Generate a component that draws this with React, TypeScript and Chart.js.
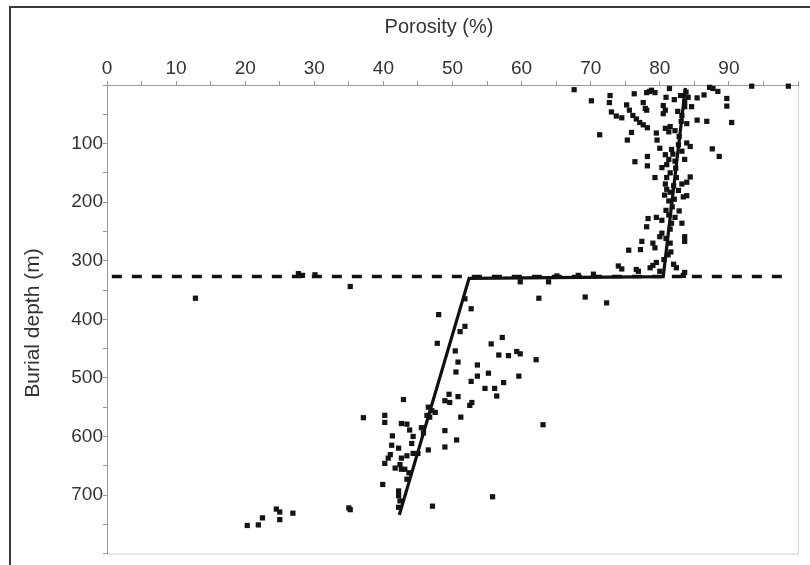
import React, { useEffect, useRef } from "react";
import { Chart, registerables } from "chart.js";

Chart.register(...registerables);

// Sample porosity (%) values
const porosity = [
  67.6, 70.1, 72.8, 72.7, 76.3, 78.5, 78.1, 79.3, 78.8, 81.4, 80.9, 82.1, 85.4, 86.4, 87.2, 87.7, 88.4, 89.7, 89.7, 93.3,
  98.6, 90.4, 85.4, 86.8, 87.6, 88.6, 77.6, 77.9, 78.1, 75.2, 75.6, 76.1, 76.6, 77.1, 77.6, 78.2, 73.0, 73.7, 74.5, 71.3,
  75.9, 75.3, 80.5, 80.8, 80.5, 79.5, 79.6, 80.8, 81.5, 81.3, 83.2, 83.9, 83.6, 84.6, 83.8, 84.1, 83.6, 80.0, 80.8, 81.3,
  81.0, 80.3, 81.7, 82.2, 82.7, 83.2, 83.6, 84.4, 83.9, 78.2, 78.2, 76.4, 79.3, 81.0, 80.8, 81.0, 81.5, 83.2, 83.9, 84.4,
  83.9, 83.4, 82.4, 82.7, 78.3, 78.1, 79.5, 80.3, 81.3, 81.7, 82.2, 83.2, 83.6, 83.6, 80.0, 80.3, 77.4, 77.2, 75.5, 79.0,
  79.3, 81.5, 74.0, 74.5, 76.6, 76.9, 78.6, 79.0, 79.5, 80.0, 82.0, 82.4, 83.6, 83.4, 70.4, 68.2, 65.1,
  83.0, 82.6, 83.1, 82.2, 82.8, 81.9, 82.3, 81.5, 82.0, 81.3, 81.8, 80.9, 81.5, 80.9, 81.2, 80.6, 82.1, 81.6, 82.8, 80.7,
  69.2, 72.3, 12.8, 27.7, 28.3, 30.1, 35.2, 59.8, 63.9, 62.5,
  51.8, 52.7, 51.8, 51.1, 48.0, 47.8, 50.4, 50.8, 50.5, 57.2, 55.6, 56.7, 58.1, 59.3, 59.8, 62.1, 53.6, 55.2, 53.6, 57.4,
  52.7, 54.7, 56.1, 56.4, 59.6, 49.5, 49.6, 48.9, 50.8, 42.9, 52.8, 52.5, 51.2, 37.1, 40.2, 40.2, 46.5, 47.0, 47.5, 46.3,
  46.7, 42.6, 43.4, 43.8, 44.3, 45.5, 45.8, 44.1, 41.3, 41.2, 42.2, 41.0, 40.7, 40.2, 42.6, 43.4, 42.4, 43.1, 44.3, 45.0,
  48.9, 50.6, 48.9, 46.5, 63.1, 41.7, 42.6, 43.7, 43.4, 39.9, 42.2, 42.2, 42.4, 42.2, 35.2, 47.1, 55.8, 20.3, 21.9, 22.5,
  24.5, 25.0, 25.0, 26.9, 35.0,
];

// Sample burial depth (m) values
const depth = [
  8, 27, 18, 30, 15, 11, 13, 13, 9, 6, 21, 25, 22, 17, 4, 6, 11, 23, 36, 2,
  2, 64, 60, 62, 109, 122, 30, 40, 43, 34, 43, 52, 58, 64, 68, 73, 46, 53, 56, 85,
  81, 94, 35, 43, 49, 82, 94, 74, 71, 80, 52, 66, 37, 37, 12, 21, 29, 108, 119, 127,
  136, 141, 110, 130, 102, 113, 127, 105, 99, 122, 138, 131, 158, 158, 169, 178, 183, 169, 166, 157,
  189, 191, 158, 180, 228, 242, 226, 231, 222, 236, 226, 236, 259, 267, 259, 253, 267, 281, 282, 270,
  278, 270, 309, 314, 315, 318, 312, 308, 303, 318, 306, 312, 320, 325, 323, 325, 326,
  18, 45, 62, 78, 88, 118, 142, 150, 172, 198, 208, 214, 246, 262, 290, 298, 195, 285, 215, 188,
  362, 372, 364, 322, 325, 324, 344, 336, 336, 364,
  365, 382, 412, 421, 392, 441, 454, 473, 490, 431, 442, 461, 462, 455, 459, 469, 478, 492, 497, 508,
  506, 518, 518, 531, 497, 528, 542, 539, 532, 537, 542, 547, 567, 568, 564, 576, 550, 556, 559, 564,
  567, 578, 579, 589, 600, 585, 594, 612, 599, 615, 620, 631, 637, 646, 637, 633, 648, 656, 629, 629,
  590, 606, 618, 623, 580, 654, 656, 662, 673, 682, 693, 701, 710, 721, 725, 719, 703, 752, 751, 739,
  724, 729, 742, 731, 722,
];

// Trend line (porosity vs depth)
const trendPorosity = [83.7, 80.5, 52.4, 42.3];
const trendDepth = [5, 327, 330, 734];

// Horizontal boundary (dashed)
const boundaryPorosity = [0.7, 99.1];
const boundaryDepth = [327, 327];

const xTitle = "Porosity (%)";
const yTitle = "Burial depth (m)";

const FONT = "'Liberation Sans', Arial, sans-serif";

export default function App() {
  const ref = useRef<HTMLCanvasElement>(null);

  useEffect(() => {
    if (!ref.current) return;
    const pts = porosity.map((p, i) => ({ x: p, y: depth[i] }));
    const trend = trendPorosity.map((p, i) => ({ x: p, y: trendDepth[i] }));
    const boundary = boundaryPorosity.map((p, i) => ({ x: p, y: boundaryDepth[i] }));

    const decor = {
      id: "decor",
      beforeDraw(chart: any) {
        const { ctx, chartArea: a } = chart;
        ctx.save();
        ctx.fillStyle = "#ffffff";
        ctx.fillRect(0, 0, chart.width, chart.height);
        // outer frame
        ctx.strokeStyle = "#3a3a3a";
        ctx.lineWidth = 2;
        ctx.beginPath();
        ctx.moveTo(10, 565);
        ctx.lineTo(10, 7);
        ctx.lineTo(810, 7);
        ctx.stroke();
        // light plot frame right/bottom
        ctx.strokeStyle = "#d0d0d0";
        ctx.lineWidth = 1;
        ctx.beginPath();
        ctx.moveTo(a.left, a.bottom + 0.5);
        ctx.lineTo(a.right + 0.5, a.bottom + 0.5);
        ctx.lineTo(a.right + 0.5, a.top);
        ctx.stroke();
        ctx.restore();
      },
      afterDraw(chart: any) {
        const { ctx } = chart;
        ctx.save();
        ctx.fillStyle = "#333333";
        ctx.textAlign = "center";
        ctx.textBaseline = "middle";
        ctx.font = `20px ${FONT}`;
        ctx.fillText(xTitle, 439, 27);
        ctx.translate(33, 323);
        ctx.rotate(-Math.PI / 2);
        ctx.font = `21px ${FONT}`;
        ctx.fillText(yTitle, 0, 0);
        ctx.restore();
      },
    };

    const chart = new Chart(ref.current, {
      type: "scatter",
      data: {
        datasets: [
          {
            label: "Samples",
            data: pts,
            pointStyle: "rect",
            pointRadius: 3.7,
            pointBorderWidth: 0,
            backgroundColor: "#141414",
            borderColor: "#141414",
            clip: false,
            order: 2,
          } as any,
          {
            label: "Trend",
            data: trend,
            showLine: true,
            pointRadius: 0,
            borderColor: "#111111",
            borderWidth: 3.2,
            fill: false,
            order: 1,
          } as any,
          {
            label: "Boundary",
            data: boundary,
            showLine: true,
            pointRadius: 0,
            borderColor: "#111111",
            borderWidth: 3.5,
            borderDash: [10, 10],
            fill: false,
            order: 1,
          } as any,
        ],
      },
      options: {
        animation: false,
        responsive: false,
        maintainAspectRatio: false,
        layout: { padding: { left: 0, top: 0, right: 12, bottom: 3 } },
        plugins: {
          legend: { display: false },
          tooltip: { enabled: false },
          title: { display: false },
        },
        scales: {
          x: {
            type: "linear",
            position: "top",
            min: 0,
            max: 100,
            afterFit: (s: any) => {
              s.height = 85;
            },
            ticks: {
              stepSize: 5,
              autoSkip: false,
              maxRotation: 0,
              padding: 1,
              color: "#333333",
              font: { family: FONT, size: 19 },
              callback: (v: any) => (Number(v) % 10 === 0 && Number(v) < 100 ? String(v) : ""),
            },
            grid: { drawOnChartArea: false, drawTicks: true, tickLength: 4, color: "#999999" },
            border: { color: "#999999", width: 1 },
          },
          y: {
            type: "linear",
            reverse: true,
            min: 0,
            max: 800,
            afterFit: (s: any) => {
              s.width = 107;
            },
            ticks: {
              stepSize: 50,
              autoSkip: false,
              padding: 0,
              color: "#333333",
              font: { family: FONT, size: 19 },
              callback: (v: any) =>
                Number(v) % 100 === 0 && Number(v) > 0 && Number(v) < 800 ? String(v) : "",
            },
            grid: { drawOnChartArea: false, drawTicks: true, tickLength: 4, color: "#999999" },
            border: { color: "#999999", width: 1 },
          },
        },
      } as any,
      plugins: [decor],
    });
    return () => chart.destroy();
  }, []);

  return (
    <div style={{ position: "fixed", left: 0, top: 0, width: 810, height: 565, background: "#fff" }}>
      <canvas ref={ref} width={810} height={565} style={{ width: 810, height: 565, display: "block" }} />
    </div>
  );
}
